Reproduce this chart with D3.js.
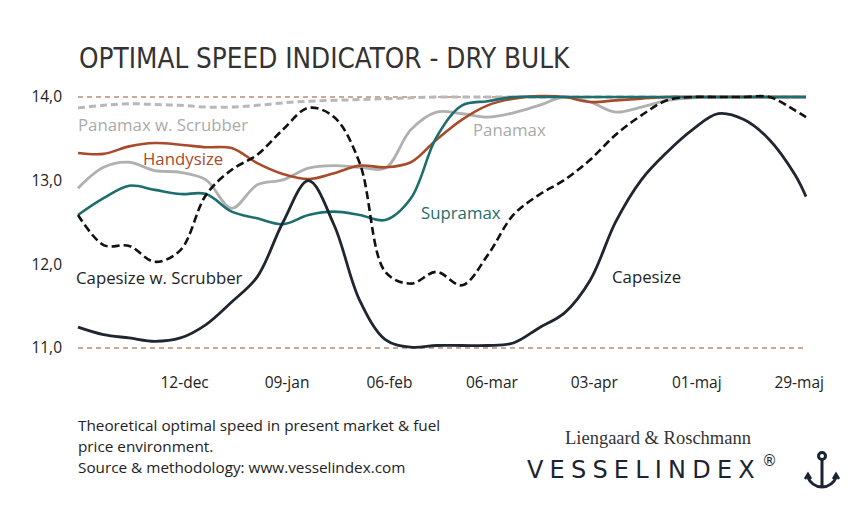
<!DOCTYPE html>
<html><head><meta charset="utf-8">
<script src="https://cdn.jsdelivr.net/npm/d3@7"></script>
<style>body{margin:0;background:#fff}</style></head>
<body><svg id="c" width="867" height="514"></svg>
<script>
const startDate = "2018-11-13";
const dayOffsets = [0,7,14,21,28,35,42,49,56,63,70,77,84,91,98,105,112,119,126,133,140,147,154,161,168,175,182,189,196,199];
const capesize = [11.25,11.16,11.12,11.08,11.12,11.28,11.55,11.85,12.5,13.0,12.47,11.57,11.10,11.01,11.03,11.03,11.03,11.06,11.24,11.42,11.81,12.51,13.01,13.34,13.61,13.80,13.73,13.49,13.07,12.81];
const capesizeScrubber = [12.59,12.23,12.22,12.03,12.17,12.83,13.13,13.31,13.61,13.87,13.76,13.21,11.91,11.77,11.91,11.75,12.11,12.59,12.83,13.01,13.25,13.55,13.78,13.96,14.0,14.0,14.0,14.0,13.84,13.76];
const handysize = [13.33,13.32,13.41,13.45,13.43,13.40,13.39,13.21,13.08,13.02,13.09,13.18,13.16,13.22,13.49,13.73,13.90,13.98,14.01,14.0,13.94,13.96,13.98,14.0,14.0,14.0,14.0,14.0,14.0,14.0];
const panamax = [12.91,13.16,13.22,13.12,13.10,13.01,12.67,12.95,13.01,13.15,13.18,13.16,13.15,13.61,13.82,13.80,13.76,13.81,13.90,14.0,13.94,13.82,13.88,13.96,13.99,14.0,14.0,14.0,14.0,14.0];
const supramax = [12.59,12.79,12.94,12.89,12.84,12.84,12.63,12.55,12.48,12.59,12.63,12.59,12.53,12.79,13.52,13.90,13.95,14.0,14.0,14.0,14.0,14.0,14.0,14.0,14.0,14.0,14.0,14.0,14.0,14.0];
const panamaxScrubber = [13.87,13.90,13.92,13.91,13.90,13.88,13.88,13.90,13.93,13.95,13.96,13.97,13.98,13.99,14.0,14.0,14.0,14.0,14.0,14.0,14.0,14.0,14.0,14.0,14.0,14.0,14.0,14.0,14.0,14.0];
const tickDates = ["2018-12-12","2019-01-09","2019-02-06","2019-03-06","2019-04-03","2019-05-01","2019-05-29"];
const tickLabels = ["12-dec","09-jan","06-feb","06-mar","03-apr","01-maj","29-maj"];
const yTicks = [11,12,13,14];

const parse = d3.timeParse("%Y-%m-%d");
const t0 = parse(startDate);
const dates = dayOffsets.map(d => d3.timeDay.offset(t0, d));
const svg = d3.select("#c");
const font = "'Open Sans','Noto Sans',sans-serif";
const x = d3.scaleTime().domain([t0, dates[dates.length-1]]).range([78, 806]);
const y = d3.scaleLinear().domain([11,14]).range([348,97]);

svg.append("text").attr("x",79).attr("y",68).attr("font-family","'DejaVu Sans Condensed','Liberation Sans Narrow',sans-serif")
  .attr("font-size",27.6).attr("fill","#333").text("OPTIMAL SPEED INDICATOR - DRY BULK");

[11,14].forEach(v => svg.append("line").attr("x1",78).attr("x2",806).attr("y1",y(v)).attr("y2",y(v))
  .attr("stroke","#a0522d").attr("stroke-width",1.2).attr("stroke-dasharray","5,4"));

const ya = svg.append("g").attr("transform","translate(66,0)")
  .call(d3.axisLeft(y).tickValues(yTicks).tickSize(0).tickFormat(d => d3.format(".1f")(d).replace(".",",")));
ya.select(".domain").remove();
ya.selectAll("text").attr("font-family",font).attr("font-size",15.5).attr("fill","#222").attr("x",-4);

const xa = svg.append("g").attr("transform","translate(0,374)")
  .call(d3.axisBottom(x).tickValues(tickDates.map(parse)).tickSize(0).tickFormat((d,i) => tickLabels[i]));
xa.select(".domain").remove();
xa.selectAll("text").attr("font-family",font).attr("font-size",15.5).attr("fill","#222");

const line = d3.line().x((d,i)=>x(dates[i])).y(d=>y(d)).curve(d3.curveCatmullRom.alpha(0.5));
const series = [
  {v:panamaxScrubber,c:"#b8b8b8",w:3,dash:"7,4"},
  {v:panamax,c:"#b0b0b0",w:2.8},
  {v:handysize,c:"#a94a2a",w:2.6},
  {v:supramax,c:"#1d6e6e",w:2.6},
  {v:capesizeScrubber,c:"#111",w:2.6,dash:"8,4"},
  {v:capesize,c:"#1f2630",w:2.8}
];
series.forEach(s => svg.append("path").attr("d",line(s.v)).attr("fill","none").attr("stroke",s.c)
  .attr("stroke-width",s.w).attr("stroke-dasharray",s.dash||null).attr("stroke-linejoin","round"));

const labels = [
  ["Panamax w. Scrubber",78,131,"#aaa"],["Handysize",143,165,"#a94a2a"],["Panamax",473,136,"#aaa"],
  ["Supramax",421,219,"#1d6e6e"],["Capesize w. Scrubber",76,284,"#222"],["Capesize",612,283,"#222"]
];
labels.forEach(l => svg.append("text").attr("x",l[1]).attr("y",l[2]).attr("font-family",font)
  .attr("font-size",16.8).attr("fill",l[3]).text(l[0]));

["Theoretical optimal speed in present market & fuel","price environment.","Source & methodology: www.vesselindex.com"]
  .forEach((t,i)=>svg.append("text").attr("x",78).attr("y",431+i*21).attr("font-family",font)
  .attr("font-size",15.3).attr("fill","#222").text(t));

svg.append("text").attr("x",565).attr("y",444).attr("font-family","'Liberation Serif',serif").attr("font-size",18.5)
  .attr("fill","#333").text("Liengaard & Roschmann");
svg.append("text").attr("x",527).attr("y",478).attr("font-family","'DejaVu Sans',sans-serif").attr("font-size",24)
  .attr("letter-spacing",6.2).attr("fill","#1c2433").text("VESSELINDEX");
svg.append("text").attr("x",762).attr("y",466).attr("font-family","'DejaVu Sans',sans-serif").attr("font-size",15)
  .attr("fill","#1c2433").text("®");
const a = svg.append("g").attr("fill","none").attr("stroke","#1c2433").attr("stroke-width",3).attr("transform","translate(822,0)");
a.append("circle").attr("cx",0).attr("cy",456).attr("r",3.5);
a.append("path").attr("d","M0,460 L0,486 M-15,476 Q-10,487 0,487 Q10,487 15,476");
a.append("path").attr("d","M-17,479 L-14,474 L-11,479 M11,479 L14,474 L17,479").attr("stroke-width",2.5);
</script></body></html>
